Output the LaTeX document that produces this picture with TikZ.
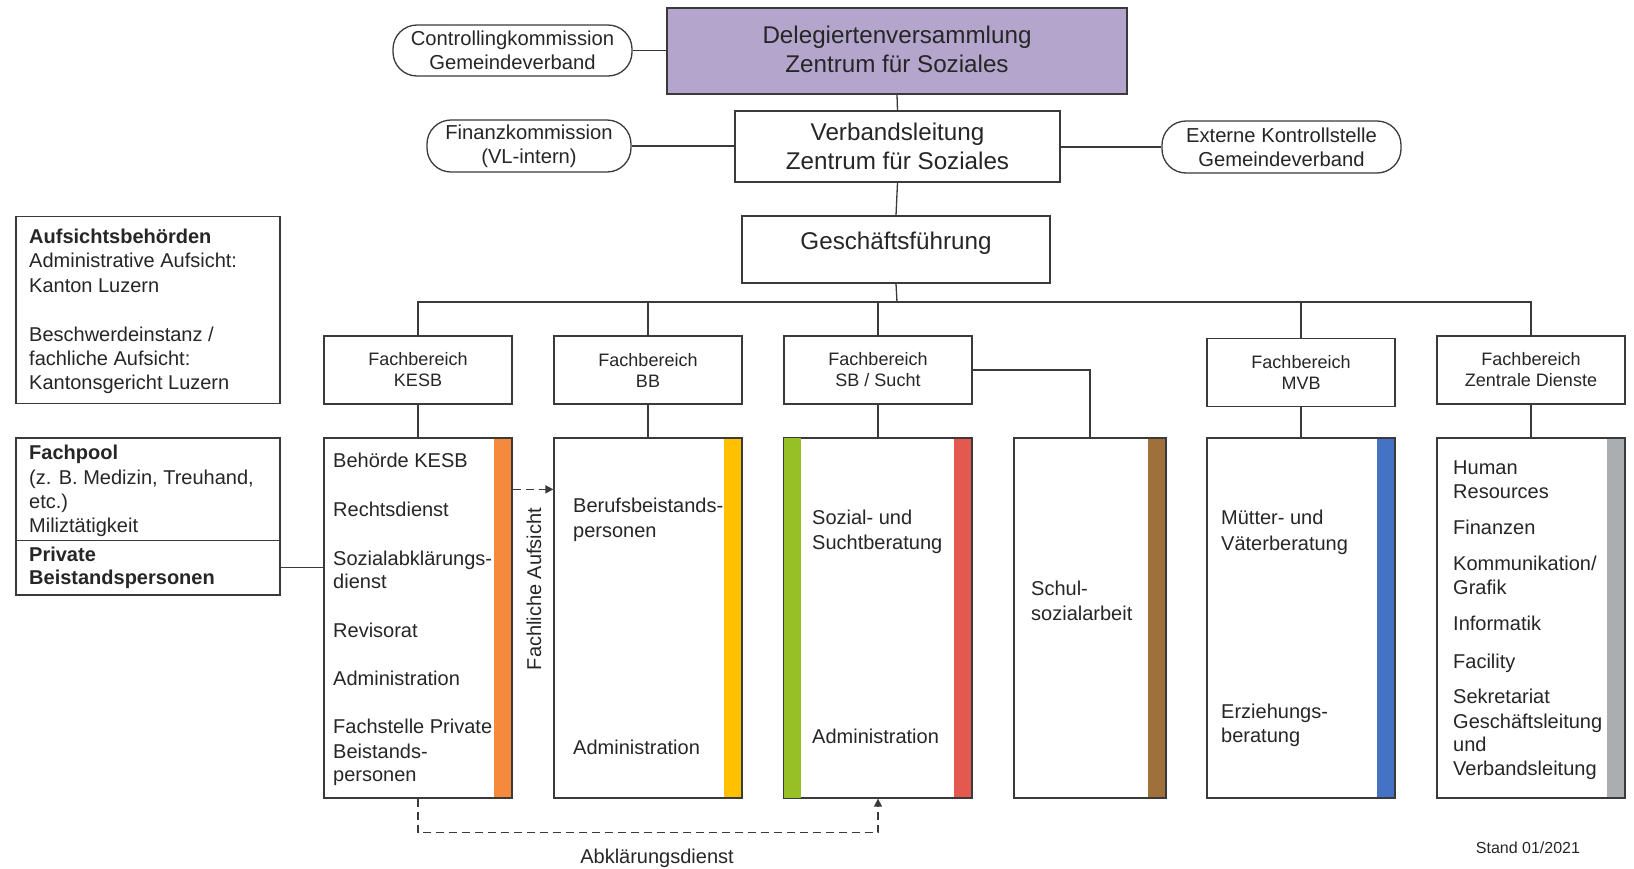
\documentclass[tikz,border=0pt]{standalone}
\usepackage{fontspec}
\setmainfont{Liberation Sans}
\usetikzlibrary{arrows.meta}
\definecolor{lc}{HTML}{3A3A3A}
\definecolor{tc}{HTML}{262626}
\definecolor{lav}{HTML}{B4A5CC}
\definecolor{cor}{HTML}{F58A3C}
\definecolor{cye}{HTML}{FFC000}
\definecolor{cgr}{HTML}{97BF26}
\definecolor{cre}{HTML}{E3594F}
\definecolor{cbr}{HTML}{A0703C}
\definecolor{cbl}{HTML}{4472C4}
\definecolor{cgy}{HTML}{AAAEB1}
\newcommand\szTop{\fontsize{24.2}{29}\selectfont}
\newcommand\szPill{\fontsize{20.2}{24}\selectfont}
\newcommand\szFB{\fontsize{18}{21}\selectfont}
\newcommand\szSub{\fontsize{20}{24}\selectfont}
\newcommand\szLeft{\fontsize{20}{23}\selectfont}
\newcommand\szLeftB{\fontsize{20}{23}\selectfont\bfseries}
\begin{document}
\begin{tikzpicture}[x=1pt,y=-1pt,
  ln/.style={draw=lc,line width=1.3pt},
  box/.style={ln,fill=white,inner sep=0pt,align=center,text=tc},
  pill/.style={box,rounded corners=24pt,font=\szPill},
  fb/.style={box,minimum width=188pt,minimum height=68pt,font=\szFB},
  sub/.style={box,minimum width=188pt,minimum height=360pt},
  rbar/.style={path picture={\fill[#1] ([xshift=-18pt]path picture bounding box.north east) rectangle (path picture bounding box.south east);}},
  txt/.style={inner sep=0pt,anchor=mid west,text=tc,font=\szSub},
  ltxt/.style={inner sep=0pt,anchor=mid west,text=tc,font=\szLeft},
  btxt/.style={inner sep=0pt,anchor=mid west,text=tc,font=\szLeftB},
  dl/.style={draw=lc,line width=1.6pt,dash pattern=on 8pt off 5pt},
  tip/.style={-{Triangle[length=8pt,width=8pt]}}
]
\useasboundingbox (0,0) rectangle (1634,868);

% top
\node[box,fill=lav,minimum width=460pt,minimum height=86pt,font=\szTop,text depth=4pt] (deleg) at (897,51) {Delegiertenversammlung\\Zentrum für Soziales};
\node[pill,minimum width=239pt,minimum height=51pt] (ctrl) at (512.5,50.5) {Controllingkommission\\Gemeindeverband};
\node[box,minimum width=325pt,minimum height=71pt,font=\szTop] (vl) at (897.5,146.5) {Verbandsleitung\\Zentrum für Soziales};
\node[pill,minimum width=204pt,minimum height=52pt] (fin) at (529,146) {Finanzkommission\\(VL-intern)};
\node[pill,minimum width=239pt,minimum height=52pt] (ext) at (1281.5,147) {Externe Kontrollstelle\\Gemeindeverband};
\node[box,minimum width=308pt,minimum height=67pt] (gf) at (896,249.5) {};
\node[inner sep=0pt,text=tc,font=\fontsize{24.2}{28}\selectfont] (gft) at (896,243) {Geschäftsführung};

\draw[ln] (ctrl.east) -- (ctrl.east -| deleg.west);
\draw[ln] (deleg.south) -- (vl.north);
\draw[ln] (fin.east) -- (fin.east -| vl.west);
\draw[ln] (ext.west -| vl.east) -- (ext.west);
\draw[ln] (vl.south) -- (gf.north);

% Fachbereiche
\node[fb] (fkesb) at (418,370) {Fachbereich\\KESB};
\node[fb] (fbb) at (648,370) {Fachbereich\\BB};
\node[fb] (fsb) at (878,370) {Fachbereich\\SB / Sucht};
\node[fb] (fmvb) at (1301,372.5) {Fachbereich\\MVB};
\node[fb] (fzd) at (1531,370) {Fachbereich\\Zentrale Dienste};

\coordinate (bus) at (897,302);
\draw[ln] (gf.south) -- (bus);
\draw[ln] (fkesb.north) -- (fkesb.north |- bus) -- (fzd.north |- bus) -- (fzd.north);
\draw[ln] (fbb.north) -- (fbb.north |- bus);
\draw[ln] (fsb.north) -- (fsb.north |- bus);
\draw[ln] (fmvb.north) -- (fmvb.north |- bus);

% lower boxes
\node[sub,rbar=cor] (kesbL) at (418,618) {};
\node[sub,rbar=cye] (bbL) at (648,618) {};
\node[sub,rbar=cre] (sbL) at (878,618) {};
\node[sub,rbar=cbr,minimum width=152pt] (schulL) at (1090,618) {};
\node[sub,rbar=cbl] (mvbL) at (1301,618) {};
\node[sub,rbar=cgy] (zdL) at (1531,618) {};
\fill[cgr] (sbL.north west) rectangle ([xshift=18pt]sbL.south west);
\draw[ln] (sbL.north west) rectangle (sbL.south east);

\draw[ln] (fkesb.south) -- (kesbL.north);
\draw[ln] (fbb.south) -- (bbL.north);
\draw[ln] (fsb.south) -- (sbL.north);
\draw[ln] (fmvb.south) -- (mvbL.north);
\draw[ln] (fzd.south) -- (zdL.north);
\draw[ln] (fsb.east) -| (schulL.north);

% texts in lower boxes
\foreach \y/\t [count=\i] in {465/Behörde KESB,514/Rechtsdienst,563/Sozialabklärungs-,586/dienst,635/Revisorat,683/Administration,731/Fachstelle Private,756/Beistands-,779/personen}
  \node[txt] (tk\i) at (333,\y) {\t};
\foreach \y/\t [count=\i] in {510/Berufsbeistands-,535/personen,752/Administration}
  \node[txt] (tb\i) at (573,\y) {\t};
\foreach \y/\t [count=\i] in {522/Sozial- und,547/Suchtberatung,741/Administration}
  \node[txt] (ts\i) at (812,\y) {\t};
\foreach \y/\t [count=\i] in {593/Schul-,618/sozialarbeit}
  \node[txt] (tu\i) at (1031,\y) {\t};
\foreach \y/\t [count=\i] in {522/Mütter- und,548/Väterberatung,716/Erziehungs-,740/beratung}
  \node[txt] (tm\i) at (1221,\y) {\t};
\foreach \y/\t [count=\i] in {472/Human,496/Resources,532/Finanzen,568/{Kommunikation/},592/Grafik,628/Informatik,666/Facility,701/Sekretariat,726/Geschäftsleitung,749/und,773/Verbandsleitung}
  \node[txt] (tz\i) at (1453,\y) {\t};

% left boxes
\node[box,minimum width=264pt,minimum height=187pt] (aufs) at (148,310) {};
\node[btxt] (a1) at (29,241) {Aufsichtsbehörden};
\node[ltxt] (a2) at (29,265) {Administrative Aufsicht:};
\node[ltxt] (a3) at (29,290) {Kanton Luzern};
\node[ltxt] (a4) at (29,339) {Beschwerdeinstanz /};
\node[ltxt] (a5) at (29,363) {fachliche Aufsicht:};
\node[ltxt] (a6) at (29,387) {Kantonsgericht Luzern};

\node[box,minimum width=264pt,minimum height=157pt] (fp) at (148,516.5) {};
\draw[ln] ([yshift=-103pt]fp.north west) -- ([yshift=-103pt]fp.north east);
\node[btxt] (p1) at (29,457) {Fachpool};
\node[ltxt] (p2) at (29,482) {(z. B. Medizin, Treuhand,};
\node[ltxt] (p3) at (29,506) {etc.)};
\node[ltxt] (p4) at (29,530) {Miliztätigkeit};
\node[btxt] (p5) at (29,559) {Private};
\node[btxt] (p6) at (29,582) {Beistandspersonen};

\path (fp.south east) ++(0,-28) coordinate (pb);
\draw[ln] (pb) -- (pb -| kesbL.west);

% Fachliche Aufsicht
\path (kesbL.north east) ++(0,52) coordinate (fa);
\draw[dl,tip] (fa) -- (fa -| bbL.west);
\node[inner sep=0pt,rotate=90,text=tc,font=\szSub] (fat) at (534,589) {Fachliche Aufsicht};

% Abklaerungsdienst
\draw[dl,tip] (kesbL.south) -- ++(0,34) -| (sbL.south);
\node[inner sep=0pt,text=tc,font=\fontsize{20}{24}\selectfont] (abk) at (657,858) {Abklärungsdienst};

\node[inner sep=0pt,text=tc,font=\fontsize{16}{19}\selectfont] (stand) at (1528,848) {Stand 01/2021};
\end{tikzpicture}
\end{document}
